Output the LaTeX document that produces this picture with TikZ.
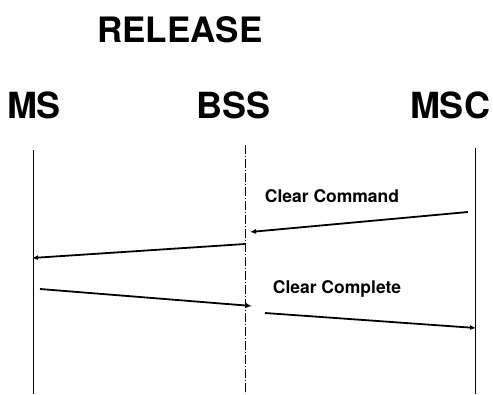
\documentclass[tikz,border=0pt]{standalone}
\usepackage{fontspec}
\setmainfont{TeX Gyre Heros}
\usetikzlibrary{arrows.meta}
\begin{document}
\begin{tikzpicture}[x=1pt,y=-1pt,
  entity/.style={font=\fontsize{36}{40}\selectfont\bfseries, inner sep=0pt, anchor=base},
  title/.style={font=\fontsize{35}{40}\selectfont\bfseries, inner sep=0pt, anchor=base},
  msglabel/.style={font=\fontsize{17.5}{20}\selectfont\bfseries, inner sep=0pt},
  lifeline/.style={line width=0.6pt},
  msg/.style={line width=1.8pt, -{Latex[length=6pt,width=5pt]}}]
  \useasboundingbox (0,0) rectangle (493,394);

  % heading and entity names
  \node[title] (title) at (180,42) {RELEASE};
  \node[entity] (ms) at (34,118) {MS};
  \node[entity] (bss) at (234,118) {BSS};
  \node[entity] (msc) at (450,118) {MSC};

  % lifelines
  \coordinate (msTop) at (33,150);   \coordinate (msBot) at (33,394);
  \coordinate (bssTop) at (245,145); \coordinate (bssBot) at (245,394);
  \coordinate (mscTop) at (475,148); \coordinate (mscBot) at (475,394);
  \draw[lifeline] (msTop) -- (msBot);
  \draw[lifeline, dash pattern=on 9pt off 2pt on 1pt off 2pt] (bssTop) -- (bssBot);
  \draw[lifeline] (mscTop) -- (mscBot);

  % message end points
  \coordinate (cmdA) at (468,212); \coordinate (cmdB) at (250,232);
  \coordinate (relA) at (245,244); \coordinate (relB) at (32,258);
  \coordinate (rspA) at (40,289);  \coordinate (rspB) at (252,306);
  \coordinate (cplA) at (265,313); \coordinate (cplB) at (476,328);

  \draw[msg] (cmdA) -- (cmdB);
  \draw[msg] (relA) -- (relB);
  \draw[msg] (rspA) -- (rspB);
  \draw[msg] (cplA) -- (cplB);

  % message labels
  \node[msglabel] (lblCmd) at (332,196) {Clear Command};
  \node[msglabel] (lblCpl) at (337,289) {Clear Complete};
\end{tikzpicture}
\end{document}
